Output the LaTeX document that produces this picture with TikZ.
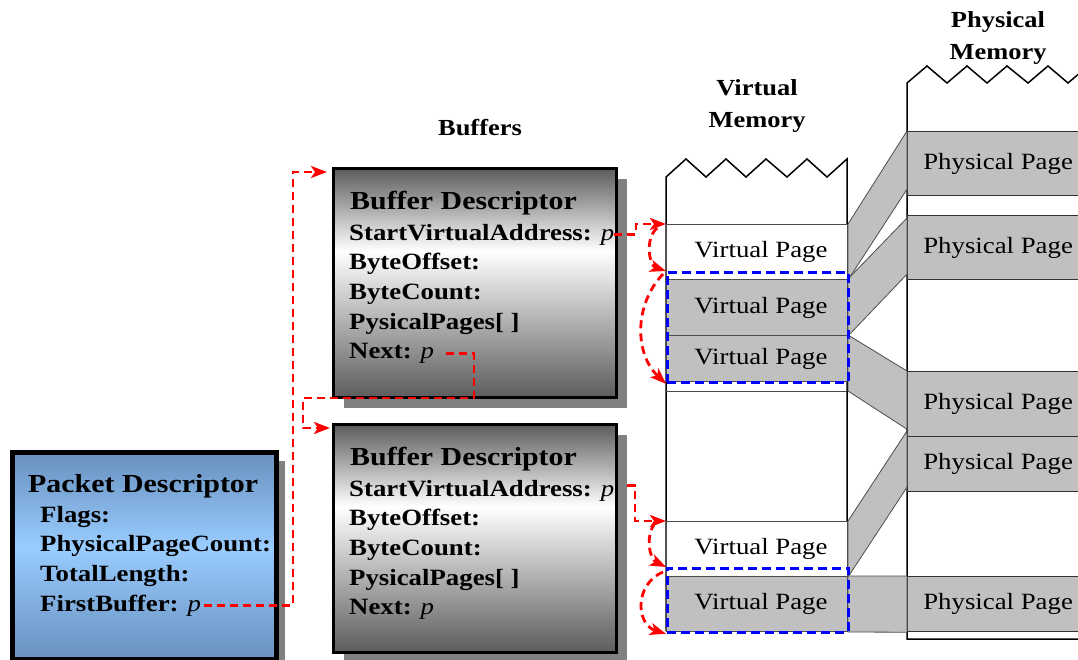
\documentclass[tikz,border=0pt]{standalone}
\usepackage{fontspec}
\setmainfont{Liberation Serif}[FakeStretch=1.15]
\usetikzlibrary{positioning,shadows,arrows.meta,backgrounds}

\definecolor{bufdark}{RGB}{92,92,92}
\definecolor{pktdark}{RGB}{104,144,190}
\definecolor{pktlight}{RGB}{153,204,255}
\definecolor{pagegray}{RGB}{192,192,192}
\definecolor{ptrred}{RGB}{255,0,0}
\definecolor{selblue}{RGB}{0,0,255}

\pgfdeclareverticalshading{bufshade}{100bp}{color(0bp)=(bufdark); color(25bp)=(bufdark); color(57bp)=(white); color(75bp)=(bufdark); color(100bp)=(bufdark)}
\pgfdeclareverticalshading{pktshade}{100bp}{color(0bp)=(pktdark); color(25bp)=(pktdark); color(52bp)=(pktlight); color(75bp)=(pktdark); color(100bp)=(pktdark)}

\newcommand{\ptrp}{{\mdseries\itshape p}}

\tikzset{
  descbox/.style={draw, inner sep=0pt, anchor=north west, shade,
    drop shadow={shadow xshift=#1, shadow yshift=-#1, fill=black!50, opacity=1}},
  descbox/.default=10pt,
  desctitle/.style={inner sep=0pt, anchor=base west, font=\fontsize{26}{30}\selectfont\bfseries},
  field/.style={inner sep=0pt, anchor=base west, text height=16pt, text depth=5pt,
    font=\fontsize{23.3}{28}\selectfont\bfseries},
  fieldrow/.style={field, at={([yshift=-29.7pt]#1.base west)}},
  memlabel/.style={inner sep=0pt, align=center, font=\fontsize{23}{32.5}\selectfont\bfseries},
  vpage/.style={draw=black!70, line width=1pt, inner sep=0pt, anchor=north west,
    minimum width=181pt, minimum height=#1, font=\fontsize{23.3}{28}\selectfont},
  ppage/.style={draw=black!80, line width=1.2pt, fill=pagegray, inner sep=0pt, anchor=north west,
    minimum width=181pt, minimum height=#1, font=\fontsize{23.3}{28}\selectfont},
  band/.style={fill=pagegray, draw=black!70, line width=0.8pt},
  colline/.style={draw=black, line width=1.5pt},
  sel/.style={draw=selblue, line width=2.8pt, dash pattern=on 9pt off 5pt, inner sep=0pt,
    anchor=north west, minimum width=181pt, minimum height=#1},
  ptr/.style={draw=ptrred, line width=2.8pt, dash pattern=on 8pt off 5pt,
    -{Stealth[length=16pt, width=12pt, inset=4pt]}},
}

\begin{document}
\begin{tikzpicture}[x=1pt, y=-1pt]
\useasboundingbox (0,0) rectangle (1078,659);
\clip (0,0) rectangle (1078,659);

% memory columns
\draw[colline] (666,631) -- (666,177) -- (686,159) -- (706,177) -- (726,159) -- (746,177)
  -- (766,159) -- (787,177) -- (807,159) -- (827,177) -- (847,159) -- (847,631);
\draw[colline] (1078,639) -- (907,639) -- (907,83) -- (927,66) -- (947,83) -- (967,66)
  -- (987,83) -- (1007,66) -- (1028,83) -- (1048,66) -- (1068,83) -- (1088,66);

% physical pages
\node[ppage=64pt] (pp1) at (907,131) {Physical Page};
\node[ppage=64pt] (pp2) at (907,215) {Physical Page};
\node[ppage=65pt] (pp3) at (907,371) {Physical Page};
\node[ppage=55pt] (pp4) at (907,436) {Physical Page};
\node[ppage=55pt] (pp5) at (907,576) {Physical Page};

% virtual pages
\node[vpage=55pt, fill=white] (vp1) at (666,224) {\hspace*{8pt}Virtual Page};
\node[vpage=56pt, fill=pagegray] (vp2) at (666,279) {\hspace*{8pt}Virtual Page};
\node[vpage=46pt, fill=pagegray] (vp3) at (666,335) {\hspace*{8pt}Virtual Page};
\coordinate (vgap) at (666,391);
\draw[draw=black!70, line width=1pt] (vgap) -- ++(181,0);
\node[vpage=55pt, fill=white] (vp4) at (666,521) {\hspace*{8pt}Virtual Page};
\node[vpage=55pt, fill=pagegray] (vp5) at (666,576) {\hspace*{8pt}Virtual Page};

% page mappings
\draw[band] (vp1.north east) -- (pp1.north west) -- ([yshift=7pt]pp1.south west) -- (vp1.south east) -- cycle;
\draw[band] (vp2.north east) -- ([yshift=-3pt]pp2.north west) -- ([yshift=6pt]pp2.south west) -- (vp2.south east) -- cycle;
\draw[band] (vp3.north east) -- (pp3.north west) -- ([yshift=8pt]pp3.south west) -- (vgap -| vp3.east) -- cycle;
\draw[band] (vp4.north east) -- ([yshift=5pt]pp4.north west) -- ([yshift=5pt]pp4.south west) -- (vp4.south east) -- cycle;
\draw[band] (vp5.north east) -- (pp5.north west) -- (pp5.south west) -- (vp5.south east) -- cycle;

% buffer extents
\node[sel=110pt] (sel1) at (666,271) {};
\node[sel=64pt] (sel2) at (666,567) {};

% headings
\node[memlabel, anchor=base] (buflabel) at (480,135) {Buffers};
\node[memlabel] (vmlabel) at (757,106) {Virtual\\Memory};
\node[memlabel] (pmlabel) at (998,38) {Physical\\Memory};

% packet descriptor
\node[descbox=9pt, line width=4.5pt, shading=pktshade, minimum width=264pt, minimum height=207pt] (pkt) at (10,450) {};
\node[desctitle] (pkttitle) at ([shift={(18,42)}]pkt.north west) {Packet Descriptor};
\node[field] (pktflags) at ([shift={(12,30)}]pkttitle.base west) {Flags:};
\node[fieldrow=pktflags] (pktcount) {PhysicalPageCount:};
\node[fieldrow=pktcount] (pktlen) {TotalLength:};
\node[fieldrow=pktlen] (pktfirst) {FirstBuffer: \ptrp};

% first buffer descriptor
\node[descbox, line width=3pt, shading=bufshade, minimum width=283pt, minimum height=229pt] (buf1) at (332,167) {};
\node[desctitle] (b1title) at ([shift={(18,42)}]buf1.north west) {Buffer Descriptor};
\node[field] (b1sva) at ([shift={(-1,31)}]b1title.base west) {StartVirtualAddress: \ptrp};
\node[fieldrow=b1sva] (b1off) {ByteOffset:};
\node[fieldrow=b1off] (b1cnt) {ByteCount:};
\node[fieldrow=b1cnt] (b1pages) {PysicalPages[ ]};
\node[fieldrow=b1pages] (b1next) {Next: \ptrp};

% second buffer descriptor
\node[descbox, line width=3pt, shading=bufshade, minimum width=283pt, minimum height=228pt] (buf2) at (332,423) {};
\node[desctitle] (b2title) at ([shift={(18,42)}]buf2.north west) {Buffer Descriptor};
\node[field] (b2sva) at ([shift={(-1,31)}]b2title.base west) {StartVirtualAddress: \ptrp};
\node[fieldrow=b2sva] (b2off) {ByteOffset:};
\node[fieldrow=b2off] (b2cnt) {ByteCount:};
\node[fieldrow=b2cnt] (b2pages) {PysicalPages[ ]};
\node[fieldrow=b2pages] (b2next) {Next: \ptrp};

% pointers
\coordinate (busa) at (293,0);
\coordinate (b1in) at ([shift={(-5,5)}]buf1.north west);
\draw[ptr, shorten <=3pt] (pktfirst.east) -- (pktfirst.east -| busa) -- (busa |- b1in) -- (b1in);

\coordinate (nextturn) at (474,398);
\coordinate (busb) at (303,398);
\coordinate (b2in) at ([shift={(-2,5)}]buf2.north west);
\draw[ptr, shorten <=12pt] (b1next.east) -| (nextturn) -- (busb) |- (b2in);

\draw[ptr] (b1sva.east) -| ([xshift=-30pt]vp1.north west) -- (vp1.north west);
\begin{scope}[on background layer]
  \draw[ptr] ([yshift=5pt]b2sva.east) -| ([xshift=-31pt]vp4.north west) -- (vp4.north west);
\end{scope}

% offsets and counts
\draw[ptr] ([shift={(-9,4)}]vp1.north west) to[bend right=60] (sel1.north west);
\draw[ptr] ([shift={(-3,3)}]sel1.north west) to[bend right=45] (sel1.south west);
\draw[ptr] ([shift={(-11,2)}]vp4.north west) to[bend right=50] (sel2.north west);
\draw[ptr] ([shift={(-3,5)}]sel2.north west) to[bend right=70, looseness=1.3] (sel2.south west);
\end{tikzpicture}
\end{document}
